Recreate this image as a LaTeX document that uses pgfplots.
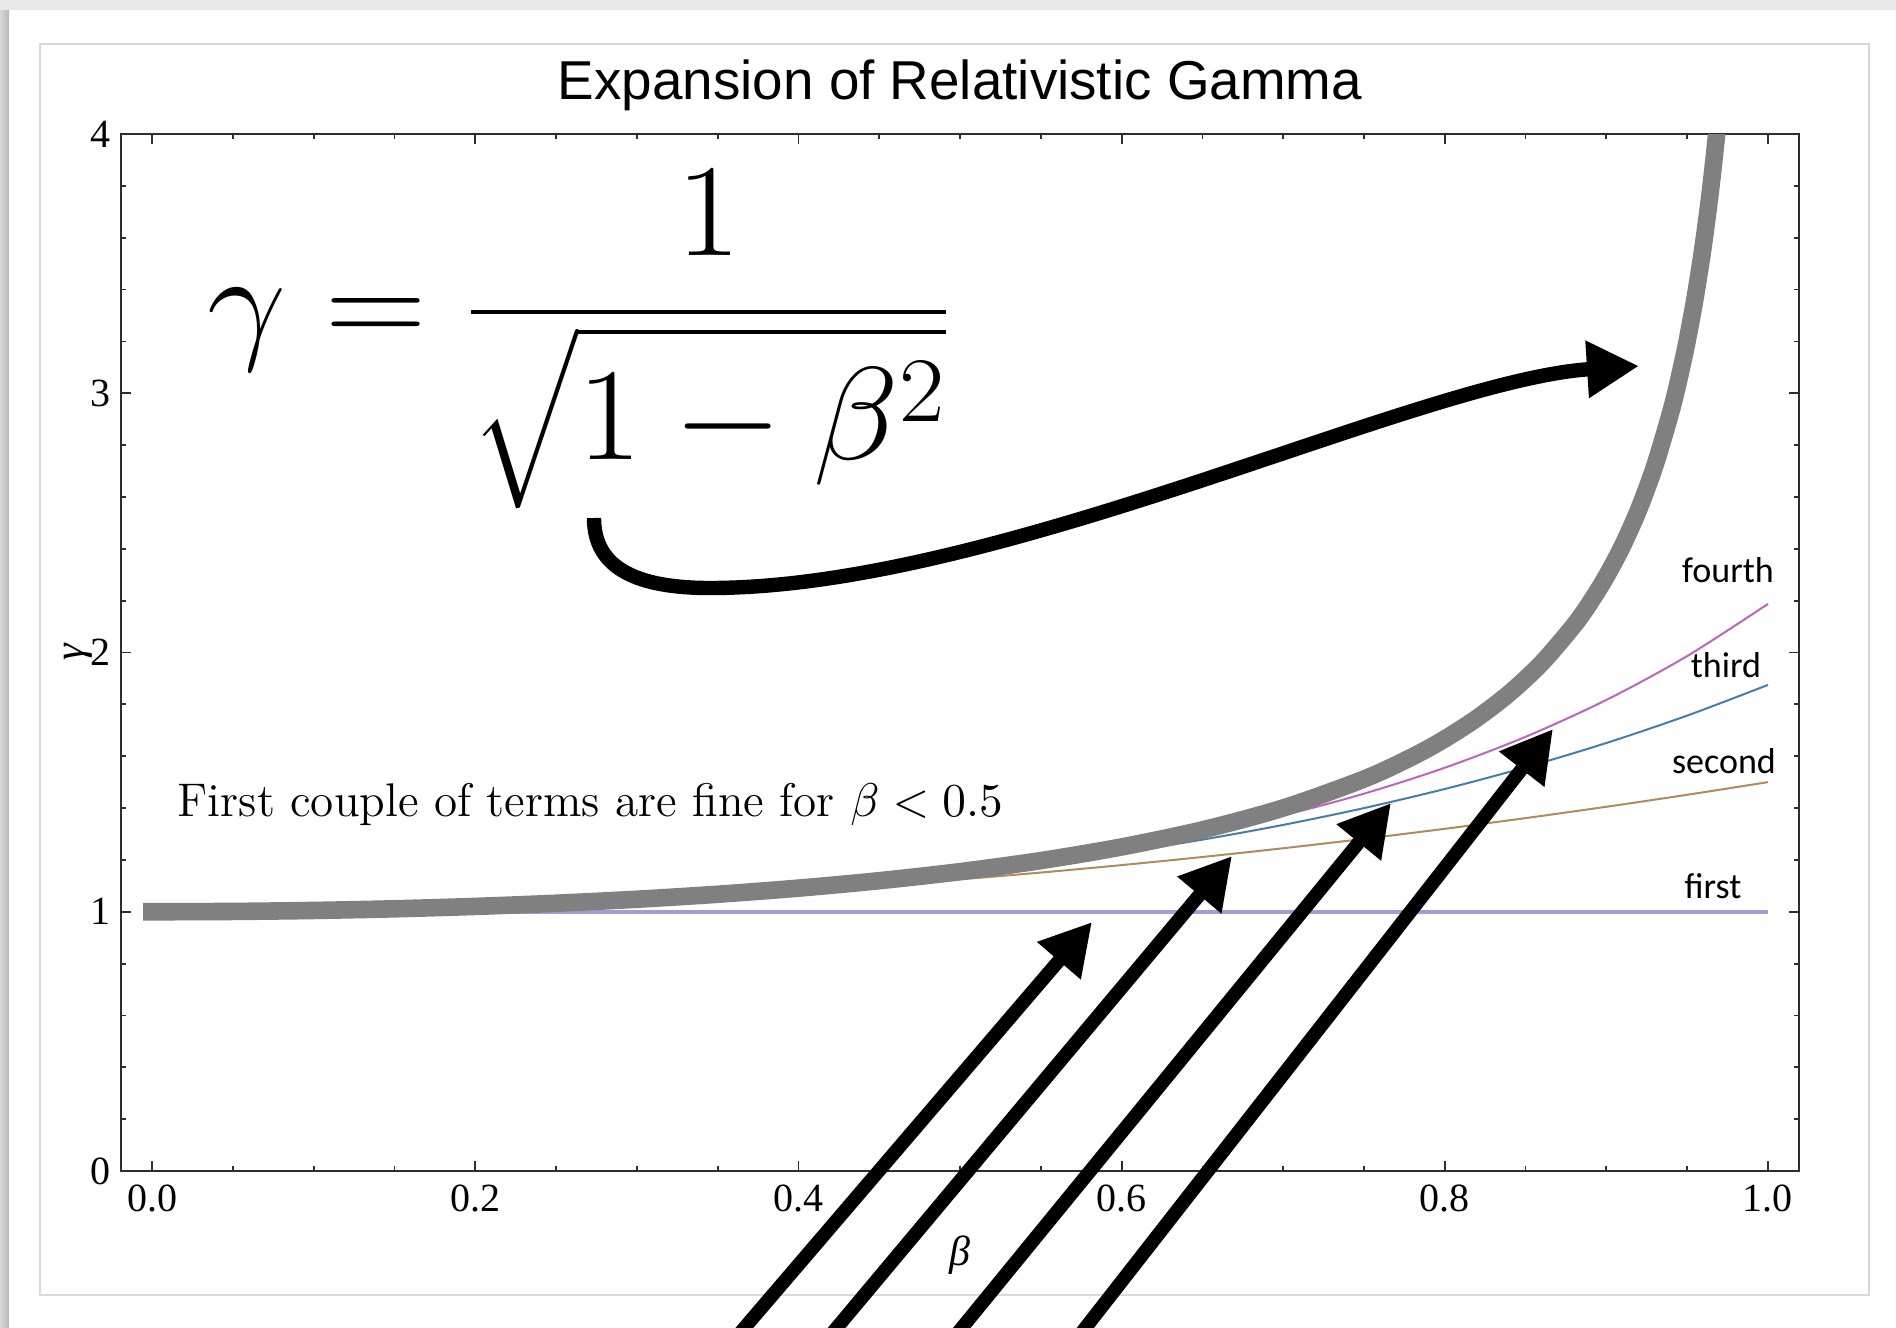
\RequirePackage{fix-cm}
\documentclass[border=0pt]{standalone}
\usepackage{exscale}
\usepackage{fontspec}
\usepackage{pgfplots}
\usepackage{pgfplotstable}
\pgfplotsset{compat=1.18}
\usetikzlibrary{arrows.meta}

\newfontfamily\timesf{Liberation Serif}
\newfontfamily\arialf{Liberation Sans}
\newfontfamily\calibrif{Carlito}

\definecolor{gammagray}{RGB}{128,128,128}
\definecolor{firstc}{RGB}{158,158,212}
\definecolor{secondc}{RGB}{176,140,90}
\definecolor{thirdc}{RGB}{70,126,168}
\definecolor{fourthc}{RGB}{190,100,190}
\definecolor{framec}{RGB}{45,45,45}

% first term: gamma = 1
\pgfplotstableread{
b g
0 1.0
1.0 1.0
}\firstdata

% second: 1 + b^2/2
\pgfplotstableread{
b g
0 1.0
0.05 1.00125
0.1 1.005
0.15 1.01125
0.2 1.02
0.25 1.03125
0.3 1.045
0.35 1.06125
0.4 1.08
0.45 1.10125
0.5 1.125
0.55 1.15125
0.6 1.18
0.65 1.21125
0.7 1.245
0.75 1.28125
0.8 1.32
0.85 1.36125
0.9 1.405
0.95 1.45125
1.0 1.5
}\seconddata

% third: + 3 b^4/8
\pgfplotstableread{
b g
0 1.0
0.05 1.00125
0.1 1.00504
0.15 1.01144
0.2 1.0206
0.25 1.03271
0.3 1.04804
0.35 1.06688
0.4 1.0896
0.45 1.11663
0.5 1.14844
0.55 1.18556
0.6 1.2286
0.65 1.27819
0.7 1.33504
0.75 1.3999
0.8 1.4736
0.85 1.557
0.9 1.65104
0.95 1.75669
1.0 1.875
}\thirddata

% fourth: + 5 b^6/16
\pgfplotstableread{
b g
0 1.0
0.05 1.00125
0.1 1.00504
0.15 1.01144
0.2 1.02062
0.25 1.03279
0.3 1.04827
0.35 1.06745
0.4 1.09088
0.45 1.11922
0.5 1.15332
0.55 1.19421
0.6 1.24318
0.65 1.30176
0.7 1.3718
0.75 1.45552
0.8 1.55552
0.85 1.67486
0.9 1.81711
0.95 1.98641
1.0 2.1875
}\fourthdata

% exact gamma
\pgfplotstableread{
b g
0 1.0
0.05 1.00125
0.1 1.00504
0.15 1.01144
0.2 1.02062
0.25 1.0328
0.3 1.04828
0.35 1.06752
0.4 1.09109
0.45 1.11979
0.5 1.1547
0.55 1.19737
0.6 1.25
0.65 1.3159
0.7 1.40028
0.75 1.51186
0.78 1.59801
0.8 1.66667
0.82 1.74714
0.84 1.84302
0.86 1.95965
0.88 2.10538
0.89 2.19317
0.9 2.29416
0.91 2.41192
0.92 2.55155
0.93 2.72065
0.94 2.93105
0.945 3.05744
0.95 3.20256
0.955 3.37149
0.96 3.57143
0.965 3.81316
0.97 4.11345
0.975 4.50035
}\gammadata

\tikzset{
  pointer/.style={line width=3.4pt, -{Triangle[length=12.75pt,width=13.5pt]}},
}

\begin{document}
\begin{tikzpicture}
% slide background with its frame
\begin{scope}[x=0.25pt,y=-0.25pt]
  \fill[white] (0,0) rectangle (1896,1328);
  \fill[black!9] (0,0) rectangle (1896,10);
  \shade[left color=black!16, right color=black!28] (0,10) rectangle (9,1328);
  \draw[black!15, line width=0.5pt] (40,44) rectangle (1869,1295);
\end{scope}

\begin{axis}[
  at={(30.25pt,-292.75pt)}, anchor=south west,
  scale only axis, width=419.5pt, height=259.25pt,
  xmin=-0.0192, xmax=1.0192, ymin=0, ymax=4,
  xtick={0,0.2,0.4,0.6,0.8,1.0}, ytick={0,1,2,3,4},
  minor x tick num=3, minor y tick num=4,
  tick align=inside, xtick pos=both, ytick pos=both,
  major tick length=2.5pt, minor tick length=1.25pt,
  axis line style={framec, line width=0.55pt},
  every tick/.style={framec, line width=0.45pt},
  /pgf/number format/assume math mode=true,
  ticklabel style={font=\timesf\fontsize{10}{12}\selectfont, text=black},
  xticklabel style={/pgf/number format/.cd, fixed, fixed zerofill, precision=1},
  yticklabel style={xshift=1pt},
  title={Expansion of Relativistic Gamma},
  every axis title shift=0pt,
  title style={font=\arialf\fontsize{13.7}{16}\selectfont,
    at={(axis description cs:0.5,1.0328)}, anchor=base},
  xlabel={β}, ylabel={γ},
  xlabel style={font=\timesf\itshape\fontsize{10.5}{12}\selectfont,
    at={(axis description cs:0.5,-0.081)}, anchor=center},
  ylabel style={font=\timesf\itshape\fontsize{10.5}{12}\selectfont,
    at={(axis description cs:-0.0256,0.5)}, anchor=center},
]
\addplot[firstc, line width=0.9pt] table[x=b,y=g] {\firstdata};
\addplot[secondc, line width=0.5pt, smooth] table[x=b,y=g] {\seconddata};
\addplot[thirdc, line width=0.5pt, smooth] table[x=b,y=g] {\thirddata};
\addplot[fourthc, line width=0.5pt, smooth] table[x=b,y=g] {\fourthdata};
\addplot[gammagray, line width=4.4pt, line cap=rect, smooth] table[x=b,y=g] {\gammadata};
\end{axis}

% formula, remarks and pointers
\begin{scope}[x=0.25pt,y=-0.25pt]
  \clip (0,0) rectangle (1896,1328);
  \node[anchor=base west, inner sep=0pt, xscale=1.065] at (207,345)
    {\fontsize{33}{40}\selectfont$\displaystyle\gamma = \frac{1}{\sqrt{1-\beta^2}}$};
  \node[anchor=base west, inner sep=0pt] at (177,816)
    {\fontsize{11.8}{14}\selectfont First couple of terms are fine for $\beta < 0.5$};
  \begin{scope}[every node/.style={anchor=base, inner sep=0pt, font=\calibrif\fontsize{9}{11}\selectfont}]
    \node at (1728,582) {fourth};
    \node at (1726,677) {third};
    \node at (1724,773) {second};
    \node at (1713,898) {first};
  \end{scope}
  \draw[line width=3.6pt, -{Triangle[length=13pt,width=13.5pt]}]
    (594,518) .. controls (594,570) and (640,588) .. (710,588)
    .. controls (1000,588) and (1420,380) .. (1639,366);
  \draw[pointer] (710,1368) -- (1092,922);
  \draw[pointer] (803,1368) -- (1232,856);
  \draw[pointer] (929,1368) -- (1391,803);
  \draw[pointer] (1054,1368) -- (1553,729);
\end{scope}
\pgfresetboundingbox
\useasboundingbox (0,0) rectangle (474pt,-332pt);
\end{tikzpicture}
\end{document}
